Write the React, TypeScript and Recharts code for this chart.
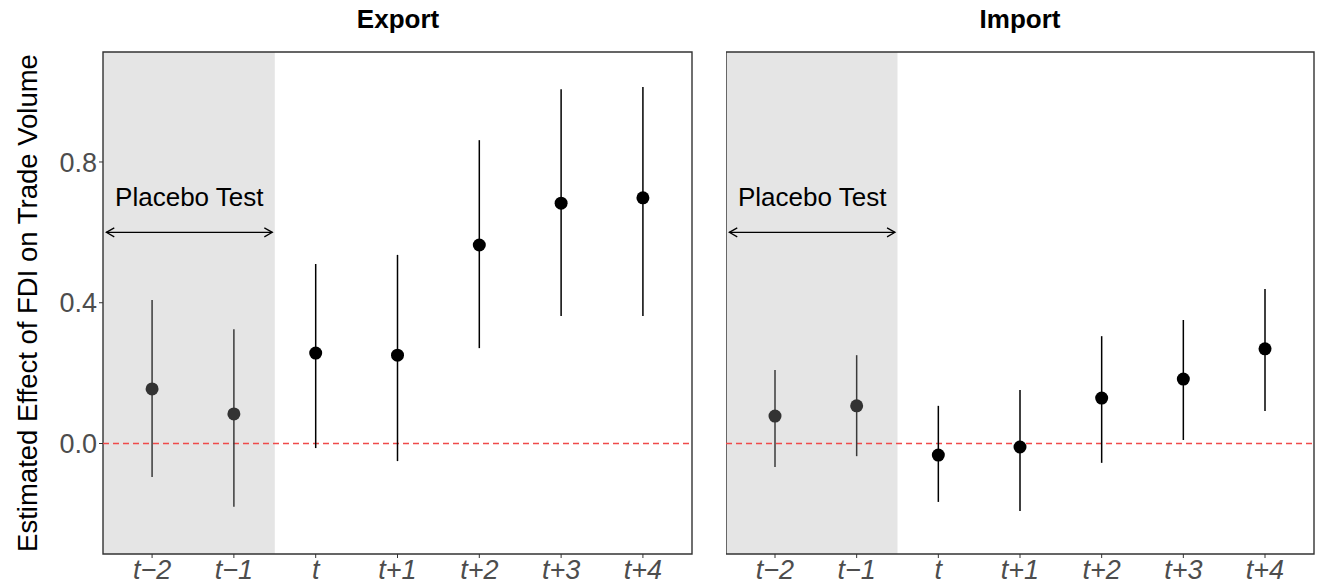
import {
  ComposedChart,
  Scatter,
  ErrorBar,
  XAxis,
  YAxis,
  ReferenceArea,
  ReferenceLine,
  ReferenceDot,
} from "recharts";

const periods = ["t\u22122", "t\u22121", "t", "t+1", "t+2", "t+3", "t+4"];
const placeboCount = 2;

const exportEst = [0.155, 0.084, 0.257, 0.251, 0.564, 0.683, 0.698];
const exportLow = [-0.095, -0.18, -0.013, -0.05, 0.271, 0.362, 0.362];
const exportHigh = [0.408, 0.325, 0.51, 0.536, 0.862, 1.007, 1.013];

const importEst = [0.078, 0.107, -0.033, -0.01, 0.129, 0.183, 0.269];
const importLow = [-0.067, -0.036, -0.166, -0.192, -0.055, 0.01, 0.092];
const importHigh = [0.209, 0.251, 0.107, 0.152, 0.305, 0.351, 0.439];

const yTicks = [0, 0.4, 0.8];
const yDomain: [number, number] = [-0.314, 1.1125];
const xDomain: [number, number] = [0.4, 7.6];
const placeboEdge = 2.5;

const FONT = '"Liberation Sans", Arial, Helvetica, sans-serif';
const TEXT_SIZE = 26;
const TICK_SIZE = 27;

type Row = { x: number; y: number; err: [number, number] };

function buildRows(est: number[], lo: number[], hi: number[]): Row[] {
  return est.map((v, i) => ({
    x: i + 1,
    y: v,
    err: [v - lo[i], hi[i] - v],
  }));
}

// double-headed arrow drawn over the placebo window
function ArrowShape(props: any) {
  const { x1, y1, x2, y2 } = props;
  const h = 8;
  const w = 4.5;
  return (
    <g stroke="#000" strokeWidth={1.2} fill="none">
      <line x1={x1} y1={y1} x2={x2} y2={y2} />
      <polyline points={`${x1 + h},${y1 - w} ${x1},${y1} ${x1 + h},${y1 + w}`} />
      <polyline points={`${x2 - h},${y2 - w} ${x2},${y2} ${x2 - h},${y2 + w}`} />
    </g>
  );
}

interface PanelProps {
  est: number[];
  lo: number[];
  hi: number[];
  width: number;
  showY: boolean;
  marginRight: number;
}

function Panel({ est, lo, hi, width, showY, marginRight }: PanelProps) {
  const rows = buildRows(est, lo, hi);
  const placebo = rows.slice(0, placeboCount);
  const post = rows.slice(placeboCount);

  return (
    <ComposedChart
      width={width}
      height={588}
      margin={{ top: 52, right: marginRight, bottom: 0, left: 0 }}
      style={{ fontFamily: FONT }}
    >
      <XAxis
        type="number"
        dataKey="x"
        domain={xDomain}
        ticks={[1, 2, 3, 4, 5, 6, 7]}
        tickFormatter={(v: number) => periods[v - 1]}
        allowDataOverflow
        axisLine={false}
        tickSize={4}
        tickLine={{ stroke: "#333", strokeWidth: 1 }}
        tick={{ fill: "#4d4d4d", fontSize: TICK_SIZE, fontStyle: "italic" }}
        height={34}
        interval={0}
      />
      <YAxis
        type="number"
        dataKey="y"
        domain={yDomain}
        ticks={yTicks}
        allowDataOverflow
        hide={!showY}
        width={103}
        axisLine={false}
        tickSize={4}
        tickLine={{ stroke: "#333", strokeWidth: 1 }}
        tick={{ fill: "#4d4d4d", fontSize: TICK_SIZE }}
        tickFormatter={(v: number) => v.toFixed(1)}
      />
      <ReferenceArea
        x1={xDomain[0]}
        x2={placeboEdge}
        y1={yDomain[0]}
        y2={yDomain[1]}
        fill="#e5e5e5"
        fillOpacity={1}
        stroke="none"
      />
      <ReferenceLine y={0} stroke="#f04a4a" strokeWidth={1.5} strokeDasharray="6 4" />
      <ReferenceLine
        segment={[
          { x: 0.44, y: 0.6 },
          { x: 2.47, y: 0.6 },
        ]}
        shape={ArrowShape}
      />
      <ReferenceDot
        x={1.455}
        y={0.7}
        r={0}
        fill="none"
        stroke="none"
        label={{ value: "Placebo Test", position: "center", fill: "#000", fontSize: TEXT_SIZE }}
      />
      <Scatter
        data={placebo}
        dataKey="y"
        isAnimationActive={false}
        shape={(p: any) => <circle cx={p.cx} cy={p.cy} r={6.5} fill="#333333" />}
      >
        <ErrorBar dataKey="err" direction="y" width={0} stroke="#3a3a3a" strokeWidth={1.5} />
      </Scatter>
      <Scatter
        data={post}
        dataKey="y"
        isAnimationActive={false}
        shape={(p: any) => <circle cx={p.cx} cy={p.cy} r={6.5} fill="#000" />}
      >
        <ErrorBar dataKey="err" direction="y" width={0} stroke="#000" strokeWidth={1.5} />
      </Scatter>
      <ReferenceArea
        x1={xDomain[0]}
        x2={xDomain[1]}
        y1={yDomain[0]}
        y2={yDomain[1]}
        fill="none"
        stroke="#333"
        strokeWidth={1.4}
      />
    </ComposedChart>
  );
}

const titleStyle: React.CSSProperties = {
  position: "absolute",
  top: 4,
  transform: "translateX(-50%)",
  fontFamily: FONT,
  fontWeight: "bold",
  fontSize: TEXT_SIZE,
  color: "#000",
  whiteSpace: "nowrap",
};

export default function App() {
  return (
    <div
      style={{
        position: "absolute",
        left: 0,
        top: 0,
        width: 1317,
        height: 588,
        background: "#fff",
        fontFamily: FONT,
      }}
    >
      <div style={{ position: "absolute", left: 0, top: 0 }}>
        <Panel est={exportEst} lo={exportLow} hi={exportHigh} width={700} showY marginRight={8} />
      </div>
      <div style={{ position: "absolute", left: 726, top: 0 }}>
        <Panel est={importEst} lo={importLow} hi={importHigh} width={591} showY={false} marginRight={3} />
      </div>
      <div style={{ ...titleStyle, left: 398 }}>Export</div>
      <div style={{ ...titleStyle, left: 1020 }}>Import</div>
      <div
        style={{
          position: "absolute",
          left: 28,
          top: 303,
          transform: "translate(-50%, -50%) rotate(-90deg)",
          fontSize: 27.5,
          color: "#000",
          whiteSpace: "nowrap",
          fontFamily: FONT,
        }}
      >
        Estimated Effect of FDI on Trade Volume
      </div>
    </div>
  );
}
